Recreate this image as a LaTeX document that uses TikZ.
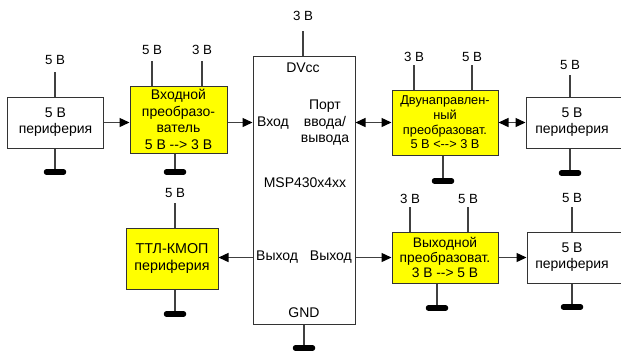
\documentclass[tikz,border=0pt]{standalone}
\usepackage{fontspec}
\setmainfont{Liberation Sans}[Ligatures=TeXOff]
\usetikzlibrary{arrows.meta,calc}
\definecolor{ln}{HTML}{333333}
\definecolor{wr}{HTML}{404040}
\definecolor{yel}{HTML}{FFFF00}
\tikzset{
  box/.style={draw=ln, line width=1bp, inner sep=0pt, align=center, font=\fontsize{14bp}{16bp}\selectfont},
  ybox/.style={box, fill=yel},
  wire/.style={draw=wr, line width=1.4bp},
  tip/.tip={Triangle[length=10bp,width=9bp,color=black]},
  arr/.style={wire, -tip},
  biarr/.style={wire, tip-tip},
  gbar/.style={draw=black, line width=5.5bp, line cap=round},
  vlab/.style={font=\fontsize{13.3bp}{15bp}\selectfont, inner sep=0pt},
  txt/.style={font=\fontsize{14bp}{16.5bp}\selectfont, inner sep=0pt, align=center},
}
\newcommand{\gnd}[1]{\draw[gbar] ($(#1)+(-8.5,0)$) -- ($(#1)+(8.5,0)$);}
\begin{document}
\begin{tikzpicture}[x=1bp,y=-1bp]
\useasboundingbox (0,0) rectangle (621,350);
% boxes
\node[box, minimum width=95bp, minimum height=51bp] (P1) at (55.5,122.5) {5 В\\периферия};
\node[ybox, minimum width=97bp, minimum height=67bp, font=\fontsize{14bp}{16.5bp}\selectfont] (C1) at (178.5,119.5) {Входной\\преобразо-\\ватель\\5 В --> 3 В};
\node[box, minimum width=102bp, minimum height=268bp] (MCU) at (304,190) {};
\node[ybox, minimum width=106bp, minimum height=65bp, font=\fontsize{12.8bp}{14.7bp}\selectfont] (C2) at (445,122.5) {Двунаправлен-\\ный\\преобразоват.\\5 В <--> 3 В};
\node[box, minimum width=104bp, minimum height=51bp] (P2) at (578,122.5) {};
\node[txt, font=\fontsize{14bp}{16bp}\selectfont] (P2t) at (572,122.5) {5 В\\периферия};
\node[ybox, minimum width=92bp, minimum height=61bp, font=\fontsize{14.3bp}{17bp}\selectfont] (TTL) at (172,258.5) {ТТЛ-КМОП\\периферия};
\node[ybox, minimum width=106bp, minimum height=51bp, font=\fontsize{13.8bp}{15bp}\selectfont] (C3) at (445,257.5) {Выходной\\преобразоват.\\3 В --> 5 В};
\node[box, minimum width=103bp, minimum height=51bp] (P3) at (578.5,257.5) {};
\node[txt, font=\fontsize{14bp}{16bp}\selectfont] (P3t) at (572,257.5) {5 В\\периферия};
% MCU texts
\node[txt] (dvcc) at (303,68) {DVcc};
\node[txt, anchor=west] (vin) at (257,123) {Вход};
\node[txt] (port) at (325,123) {Порт\\ввода/\\вывода};
\node[txt] (msp) at (305,183) {MSP430x4xx};
\node[txt, anchor=west] (out1) at (256,257) {Выход};
\node[txt, anchor=east] (out2) at (352,257) {Выход};
\node[txt] (gndt) at (304,313) {GND};
% arrows
\draw[arr] (P1.east) -- (P1.east -| C1.west);
\draw[arr] (P1.east -| C1.east) -- (P1.east -| MCU.west);
\draw[biarr] (C2.west -| MCU.east) -- (C2.west);
\draw[biarr] (C2.east) -- (C2.east -| P2.west);
\draw[arr] (C3.west -| MCU.west) -- (C3.west -| TTL.east);
\draw[arr] (C3.west -| MCU.east) -- (C3.west);
\draw[arr] (C3.east) -- (C3.east -| P3.west);
% supply labels and lines
\node[vlab] (v1) at (55,60.3) {5 В};
\coordinate (t1) at (55,72);
\draw[wire] (P1.north -| t1) -- (t1);
\node[vlab] (v2) at (152,49.5) {5 В};
\node[vlab] (v3) at (202,49.5) {3 В};
\coordinate (t2) at (152,61);
\coordinate (t3) at (202,61);
\draw[wire] (C1.north -| t2) -- (t2);
\draw[wire] (C1.north -| t3) -- (t3);
\node[vlab] (v4) at (303,16) {3 В};
\coordinate (t4) at (303,31);
\draw[wire] (MCU.north -| t4) -- (t4);
\node[vlab] (v5) at (414,56.5) {3 В};
\node[vlab] (v6) at (472,56.5) {5 В};
\coordinate (t5) at (414,65);
\coordinate (t6) at (472,65);
\draw[wire] (C2.north -| t5) -- (t5);
\draw[wire] (C2.north -| t6) -- (t6);
\node[vlab] (v7) at (570,64.5) {5 В};
\coordinate (t7) at (570,75);
\draw[wire] (P2.north -| t7) -- (t7);
\node[vlab] (v8) at (175,192.5) {5 В};
\coordinate (t8) at (175,203);
\draw[wire] (TTL.north -| t8) -- (t8);
\node[vlab] (v9) at (410,198.5) {3 В};
\node[vlab] (v10) at (468,198.5) {5 В};
\coordinate (t9) at (410,207);
\coordinate (t10) at (468,207);
\draw[wire] (C3.north -| t9) -- (t9);
\draw[wire] (C3.north -| t10) -- (t10);
\node[vlab] (v11) at (572,197.5) {5 В};
\coordinate (t11) at (572,207);
\draw[wire] (P3.north -| t11) -- (t11);
% grounds
\coordinate (g1) at (55,172);
\coordinate (g2) at (175,172);
\coordinate (g3) at (304,348);
\coordinate (g4) at (443,181);
\coordinate (g5) at (570,173);
\coordinate (g6) at (175,314);
\coordinate (g7) at (437,308);
\coordinate (g8) at (572,307);
\draw[wire] (P1.south -| g1) -- (g1);
\draw[wire] (C1.south -| g2) -- (g2);
\draw[wire] (MCU.south -| g3) -- (g3);
\draw[wire] (C2.south -| g4) -- (g4);
\draw[wire] (P2.south -| g5) -- (g5);
\draw[wire] (TTL.south -| g6) -- (g6);
\draw[wire] (C3.south -| g7) -- (g7);
\draw[wire] (P3.south -| g8) -- (g8);
\gnd{g1}\gnd{g2}\gnd{g3}\gnd{g4}\gnd{g5}\gnd{g6}\gnd{g7}\gnd{g8}
\end{tikzpicture}
\end{document}
